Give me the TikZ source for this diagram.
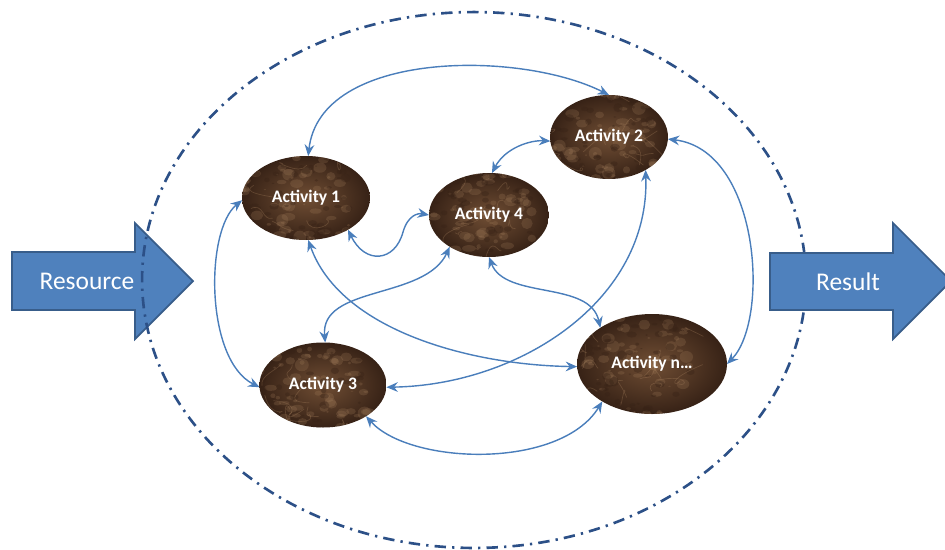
\documentclass[tikz,border=0pt]{standalone}
\usepackage{fontspec}
\setmainfont{Carlito}
\usetikzlibrary{arrows.meta,shapes.geometric}

\definecolor{linkblue}{RGB}{74,126,187}
\definecolor{boundary}{RGB}{44,80,135}
\definecolor{blockfill}{RGB}{79,129,189}
\definecolor{blockedge}{RGB}{56,93,138}
\definecolor{marbledark}{RGB}{55,34,22}
\definecolor{marblemid}{RGB}{112,78,52}
\definecolor{marblelight}{RGB}{170,132,96}

\tikzset{
  activity/.style={
    ellipse, inner sep=0pt, outer sep=0pt, text=white,
    font=\fontsize{10}{12}\selectfont\bfseries,
    path picture={
      % marble texture: shaded base, mottled patches and thin veins
      \shade[inner color=marblemid, outer color=marbledark]
        (path picture bounding box.south west) rectangle (path picture bounding box.north east);
      \foreach \k in {1,...,120}{
        \pgfmathsetmacro\px{(rnd-0.5)*90}
        \pgfmathsetmacro\py{(rnd-0.5)*60}
        \pgfmathsetmacro\pr{0.6+rnd*3.4}
        \pgfmathsetmacro\pq{\pr*(0.4+0.6*rnd)}
        \fill[marblelight, opacity=0.22, shift={(path picture bounding box.center)}]
          (\px pt,\py pt) ellipse ({\pr pt} and {\pq pt});
      }
      \foreach \k in {1,...,100}{
        \pgfmathsetmacro\px{(rnd-0.5)*90}
        \pgfmathsetmacro\py{(rnd-0.5)*60}
        \pgfmathsetmacro\pr{0.5+rnd*2.5}
        \pgfmathsetmacro\pq{\pr*(0.4+0.6*rnd)}
        \fill[marbledark, opacity=0.38, shift={(path picture bounding box.center)}]
          (\px pt,\py pt) ellipse ({\pr pt} and {\pq pt});
      }
      \foreach \k in {1,...,22}{
        \pgfmathsetmacro\ax{(rnd-0.5)*90}
        \pgfmathsetmacro\ay{(rnd-0.5)*60}
        \pgfmathsetmacro\bx{\ax+(rnd-0.5)*14}
        \pgfmathsetmacro\by{\ay+(rnd-0.5)*14}
        \pgfmathsetmacro\cx{\ax+(rnd-0.5)*20}
        \pgfmathsetmacro\cy{\ay+(rnd-0.5)*20}
        \pgfmathsetmacro\dx{\ax+(rnd-0.5)*28}
        \pgfmathsetmacro\dy{\ay+(rnd-0.5)*28}
        \draw[marblelight, opacity=0.3, line width=0.4pt, shift={(path picture bounding box.center)}]
          (\ax pt,\ay pt) .. controls (\bx pt,\by pt) and (\cx pt,\cy pt) .. (\dx pt,\dy pt);
      }
    }
  },
  link/.style={
    draw=linkblue, line width=0.8pt,
    {Stealth[length=6.5pt,width=5.5pt,inset=2.2pt]}-{Stealth[length=6.5pt,width=5.5pt,inset=2.2pt]}
  },
  block/.style={fill=blockfill, draw=blockedge, line width=1pt, line join=miter},
  blocktext/.style={text=white, font=\fontsize{14.5}{16}\selectfont},
}

\begin{document}
\begin{tikzpicture}[x=0.02cm, y=-0.02cm]
  \pgfmathsetseed{11}
  \useasboundingbox (0,0) rectangle (945,549);

  % input arrow
  \path[block] (12,252) -- (135,252) -- (135,223) -- (193,281) -- (135,339)
    -- (135,310) -- (12,310) -- cycle;
  \node[blocktext] (resource) at (87,281) {Resource};

  % system boundary
  \draw[boundary, line width=1.5pt, dash pattern=on 6.5pt off 3.5pt on 1.3pt off 3.5pt]
    (474,280) ellipse (6.64cm and 5.36cm);

  % output arrow
  \path[block] (770,253) -- (893,253) -- (893,223) -- (951,281) -- (893,339)
    -- (893,310) -- (770,310) -- cycle;
  \node[blocktext] (result) at (848,282) {Result};

  % activities
  \node[activity, minimum width=2.56cm, minimum height=1.68cm] (a1) at (306,198) {Activity 1};
  \node[activity, minimum width=2.36cm, minimum height=1.68cm] (a2) at (609,137) {Activity 2};
  \node[activity, minimum width=2.40cm, minimum height=1.68cm] (a4) at (489,215) {Activity 4};
  \node[activity, minimum width=2.54cm, minimum height=1.70cm] (a3) at (323,385) {Activity 3};
  \node[activity, minimum width=3.00cm, minimum height=2.00cm] (an) at (652,364) {Activity n…};

  % interactions
  \draw[link] (a1.87) .. controls (320,50) and (520,50) .. (a2.90);
  \draw[link] (a4.86) .. controls (505,148) and (530,140) .. (a2.184);
  \draw[link] (a1.323) .. controls (365,265) and (395,262) .. (403,232)
    .. controls (408,215) and (418,213) .. (a4.180);
  \draw[link] (a1.182) .. controls (205,230) and (205,360) .. (a3.182);
  \draw[link] (a2.358) .. controls (760,150) and (770,320) .. (an.0);
  \draw[link] (a1.273) .. controls (340,330) and (470,365) .. (an.182);
  \draw[link] (a4.219) .. controls (425,300) and (320,285) .. (a3.87);
  \draw[link] (a4.270) .. controls (505,300) and (590,280) .. (an.145);
  \draw[link] (a2.318) .. controls (650,300) and (520,385) .. (a3.358);
  \draw[link] (a3.324) .. controls (410,465) and (560,470) .. (an.217);
\end{tikzpicture}
\end{document}
